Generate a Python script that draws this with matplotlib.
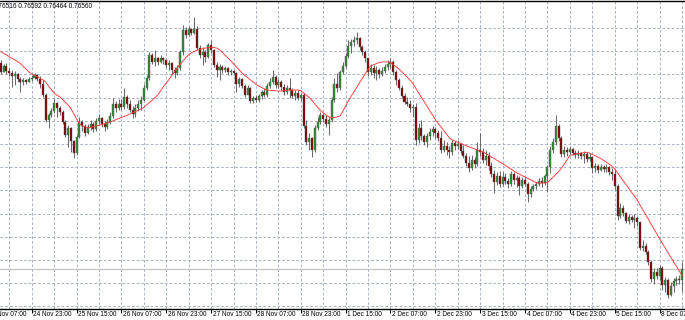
import numpy as np
import matplotlib.pyplot as plt

# H1 bars, one value per bar (weekends skipped)
first_open = 0.77449
close = [
    0.77410, 0.77436, 0.77415, 0.77406, 0.77393, 0.77402, 0.77380, 0.77367, 0.77376, 0.77367,
    0.77380, 0.77384, 0.77397, 0.77380, 0.77359, 0.77311, 0.77203, 0.77225, 0.77242, 0.77277,
    0.77255, 0.77238, 0.77195, 0.77139, 0.77169, 0.77113, 0.77061, 0.77130, 0.77195, 0.77178,
    0.77147, 0.77173, 0.77186, 0.77165, 0.77199, 0.77212, 0.77186, 0.77173, 0.77195, 0.77221,
    0.77272, 0.77255, 0.77272, 0.77259, 0.77303, 0.77272, 0.77247, 0.77229, 0.77255, 0.77272,
    0.77290, 0.77341, 0.77384, 0.77484, 0.77453, 0.77471, 0.77453, 0.77471, 0.77462, 0.77441,
    0.77449, 0.77419, 0.77406, 0.77428, 0.77497, 0.77591, 0.77570, 0.77596, 0.77578, 0.77596,
    0.77514, 0.77484, 0.77497, 0.77475, 0.77527, 0.77505, 0.77441, 0.77419, 0.77432, 0.77419,
    0.77428, 0.77410, 0.77415, 0.77406, 0.77359, 0.77380, 0.77350, 0.77311, 0.77341, 0.77285,
    0.77298, 0.77290, 0.77307, 0.77324, 0.77311, 0.77350, 0.77367, 0.77389, 0.77354, 0.77367,
    0.77346, 0.77324, 0.77341, 0.77333, 0.77307, 0.77320, 0.77298, 0.77311, 0.77178, 0.77109,
    0.77126, 0.77074, 0.77169, 0.77195, 0.77225, 0.77208, 0.77186, 0.77203, 0.77290, 0.77359,
    0.77341, 0.77410, 0.77436, 0.77479, 0.77522, 0.77540, 0.77548, 0.77557, 0.77518, 0.77497,
    0.77471, 0.77410, 0.77428, 0.77406, 0.77419, 0.77402, 0.77415, 0.77432, 0.77445, 0.77453,
    0.77410, 0.77376, 0.77341, 0.77307, 0.77281, 0.77272, 0.77255, 0.77259, 0.77117, 0.77169,
    0.77134, 0.77109, 0.77134, 0.77152, 0.77165, 0.77147, 0.77126, 0.77074, 0.77091, 0.77074,
    0.77066, 0.77104, 0.77091, 0.77100, 0.77070, 0.77048, 0.77018, 0.76997, 0.77031, 0.77014,
    0.77074, 0.77066, 0.77031, 0.77048, 0.77005, 0.76971, 0.76936, 0.76962, 0.76928, 0.76958,
    0.76941, 0.76928, 0.76971, 0.76945, 0.76953, 0.76919, 0.76945, 0.76928, 0.76884, 0.76906,
    0.76919, 0.76928, 0.76941, 0.76932, 0.76962, 0.77001, 0.77074, 0.77109, 0.77178, 0.77126,
    0.77057, 0.77074, 0.77066, 0.77078, 0.77061, 0.77053, 0.77061, 0.77048, 0.77057, 0.77035,
    0.77044, 0.76997, 0.77005, 0.76988, 0.77001, 0.76992, 0.77001, 0.76979, 0.76971, 0.76919,
    0.76790, 0.76824, 0.76803, 0.76768, 0.76785, 0.76772, 0.76781, 0.76764, 0.76652, 0.76660,
    0.76634, 0.76591, 0.76518, 0.76548, 0.76531, 0.76566, 0.76493, 0.76514, 0.76449, 0.76488,
    0.76510, 0.76518, 0.76516, 0.76560]
high = [
    0.77462, 0.77445, 0.77449, 0.77428, 0.77419, 0.77415, 0.77406, 0.77389, 0.77384, 0.77380,
    0.77389, 0.77397, 0.77406, 0.77402, 0.77393, 0.77376, 0.77320, 0.77234, 0.77255, 0.77298,
    0.77281, 0.77264, 0.77247, 0.77203, 0.77182, 0.77173, 0.77117, 0.77139, 0.77216, 0.77203,
    0.77186, 0.77186, 0.77203, 0.77195, 0.77212, 0.77229, 0.77216, 0.77199, 0.77208, 0.77238,
    0.77298, 0.77285, 0.77294, 0.77294, 0.77341, 0.77311, 0.77290, 0.77264, 0.77272, 0.77290,
    0.77307, 0.77359, 0.77397, 0.77497, 0.77492, 0.77505, 0.77475, 0.77484, 0.77475, 0.77466,
    0.77462, 0.77453, 0.77432, 0.77441, 0.77505, 0.77613, 0.77604, 0.77609, 0.77600, 0.77647,
    0.77609, 0.77527, 0.77518, 0.77505, 0.77535, 0.77548, 0.77509, 0.77453, 0.77445, 0.77441,
    0.77436, 0.77432, 0.77423, 0.77419, 0.77410, 0.77389, 0.77384, 0.77359, 0.77354, 0.77346,
    0.77307, 0.77311, 0.77316, 0.77333, 0.77341, 0.77363, 0.77384, 0.77419, 0.77397, 0.77380,
    0.77376, 0.77359, 0.77354, 0.77384, 0.77341, 0.77333, 0.77333, 0.77320, 0.77320, 0.77203,
    0.77147, 0.77130, 0.77182, 0.77216, 0.77238, 0.77234, 0.77225, 0.77216, 0.77303, 0.77384,
    0.77406, 0.77419, 0.77453, 0.77492, 0.77548, 0.77553, 0.77566, 0.77583, 0.77561, 0.77527,
    0.77505, 0.77471, 0.77445, 0.77441, 0.77436, 0.77428, 0.77432, 0.77445, 0.77462, 0.77471,
    0.77462, 0.77419, 0.77384, 0.77354, 0.77320, 0.77303, 0.77290, 0.77272, 0.77277, 0.77191,
    0.77203, 0.77143, 0.77147, 0.77169, 0.77178, 0.77173, 0.77160, 0.77156, 0.77117, 0.77109,
    0.77091, 0.77117, 0.77113, 0.77117, 0.77104, 0.77096, 0.77061, 0.77048, 0.77053, 0.77044,
    0.77109, 0.77147, 0.77083, 0.77074, 0.77066, 0.77022, 0.76988, 0.76979, 0.76984, 0.76979,
    0.76975, 0.76953, 0.76984, 0.76979, 0.76966, 0.76962, 0.76958, 0.76958, 0.76936, 0.76919,
    0.76928, 0.76936, 0.76953, 0.76958, 0.76971, 0.77009, 0.77091, 0.77126, 0.77225, 0.77186,
    0.77134, 0.77091, 0.77087, 0.77091, 0.77083, 0.77074, 0.77074, 0.77066, 0.77070, 0.77066,
    0.77061, 0.77048, 0.77018, 0.77014, 0.77014, 0.77009, 0.77014, 0.77005, 0.76997, 0.76992,
    0.76928, 0.76846, 0.76837, 0.76807, 0.76798, 0.76794, 0.76798, 0.76790, 0.76764, 0.76686,
    0.76673, 0.76643, 0.76600, 0.76566, 0.76566, 0.76578, 0.76574, 0.76527, 0.76522, 0.76505,
    0.76522, 0.76531, 0.76535, 0.76592]
low = [
    0.77402, 0.77410, 0.77402, 0.77393, 0.77346, 0.77354, 0.77367, 0.77324, 0.77354, 0.77359,
    0.77367, 0.77372, 0.77380, 0.77372, 0.77341, 0.77303, 0.77195, 0.77169, 0.77216, 0.77234,
    0.77216, 0.77225, 0.77186, 0.77130, 0.77087, 0.77066, 0.77040, 0.77053, 0.77126, 0.77156,
    0.77134, 0.77143, 0.77160, 0.77152, 0.77156, 0.77186, 0.77173, 0.77156, 0.77165, 0.77186,
    0.77212, 0.77238, 0.77247, 0.77247, 0.77251, 0.77255, 0.77238, 0.77212, 0.77216, 0.77242,
    0.77247, 0.77285, 0.77333, 0.77376, 0.77445, 0.77436, 0.77441, 0.77449, 0.77445, 0.77428,
    0.77419, 0.77402, 0.77384, 0.77397, 0.77419, 0.77484, 0.77557, 0.77566, 0.77570, 0.77574,
    0.77505, 0.77471, 0.77441, 0.77453, 0.77471, 0.77492, 0.77432, 0.77389, 0.77376, 0.77406,
    0.77410, 0.77397, 0.77397, 0.77397, 0.77324, 0.77346, 0.77341, 0.77303, 0.77320, 0.77277,
    0.77277, 0.77281, 0.77281, 0.77294, 0.77303, 0.77303, 0.77341, 0.77359, 0.77341, 0.77341,
    0.77333, 0.77311, 0.77316, 0.77298, 0.77298, 0.77290, 0.77290, 0.77285, 0.77169, 0.77096,
    0.77074, 0.77044, 0.77066, 0.77160, 0.77186, 0.77195, 0.77173, 0.77139, 0.77195, 0.77281,
    0.77324, 0.77333, 0.77402, 0.77428, 0.77471, 0.77492, 0.77522, 0.77531, 0.77505, 0.77484,
    0.77453, 0.77393, 0.77397, 0.77384, 0.77376, 0.77384, 0.77393, 0.77406, 0.77419, 0.77428,
    0.77397, 0.77354, 0.77333, 0.77298, 0.77272, 0.77264, 0.77238, 0.77216, 0.77096, 0.77104,
    0.77117, 0.77096, 0.77087, 0.77117, 0.77134, 0.77126, 0.77113, 0.77061, 0.77066, 0.77053,
    0.77040, 0.77053, 0.77074, 0.77078, 0.77057, 0.77040, 0.77005, 0.76979, 0.76988, 0.76997,
    0.77005, 0.77048, 0.77018, 0.77009, 0.76988, 0.76958, 0.76889, 0.76923, 0.76915, 0.76919,
    0.76928, 0.76910, 0.76919, 0.76928, 0.76915, 0.76880, 0.76910, 0.76919, 0.76850, 0.76872,
    0.76897, 0.76906, 0.76919, 0.76915, 0.76923, 0.76893, 0.76975, 0.77061, 0.77096, 0.77113,
    0.77044, 0.77044, 0.77048, 0.77057, 0.77053, 0.77040, 0.77040, 0.77035, 0.77018, 0.77022,
    0.77027, 0.76975, 0.76979, 0.76975, 0.76984, 0.76979, 0.76979, 0.76966, 0.76945, 0.76902,
    0.76772, 0.76781, 0.76790, 0.76759, 0.76755, 0.76764, 0.76738, 0.76747, 0.76643, 0.76639,
    0.76626, 0.76578, 0.76505, 0.76497, 0.76518, 0.76514, 0.76471, 0.76462, 0.76436, 0.76445,
    0.76462, 0.76493, 0.76497, 0.76464]
ma = [
    0.77499, 0.77491, 0.77484, 0.77477, 0.77469, 0.77463, 0.77455, 0.77447, 0.77435, 0.77423,
    0.77411, 0.77402, 0.77396, 0.77390, 0.77384, 0.77377, 0.77367, 0.77350, 0.77335, 0.77320,
    0.77311, 0.77304, 0.77292, 0.77280, 0.77268, 0.77253, 0.77231, 0.77209, 0.77188, 0.77179,
    0.77174, 0.77169, 0.77172, 0.77175, 0.77178, 0.77181, 0.77184, 0.77188, 0.77191, 0.77195,
    0.77200, 0.77205, 0.77210, 0.77215, 0.77219, 0.77224, 0.77229, 0.77235, 0.77240, 0.77246,
    0.77251, 0.77258, 0.77269, 0.77279, 0.77289, 0.77300, 0.77312, 0.77330, 0.77348, 0.77363,
    0.77379, 0.77396, 0.77413, 0.77430, 0.77444, 0.77459, 0.77473, 0.77485, 0.77494, 0.77500,
    0.77505, 0.77508, 0.77511, 0.77514, 0.77516, 0.77518, 0.77516, 0.77514, 0.77507, 0.77495,
    0.77483, 0.77471, 0.77459, 0.77446, 0.77433, 0.77420, 0.77407, 0.77396, 0.77387, 0.77377,
    0.77368, 0.77358, 0.77350, 0.77344, 0.77338, 0.77333, 0.77332, 0.77331, 0.77330, 0.77329,
    0.77329, 0.77330, 0.77331, 0.77333, 0.77333, 0.77333, 0.77333, 0.77330, 0.77320, 0.77311,
    0.77301, 0.77288, 0.77273, 0.77259, 0.77245, 0.77235, 0.77225, 0.77218, 0.77214, 0.77214,
    0.77217, 0.77221, 0.77242, 0.77264, 0.77286, 0.77307, 0.77326, 0.77345, 0.77365, 0.77384,
    0.77403, 0.77422, 0.77438, 0.77442, 0.77447, 0.77452, 0.77454, 0.77454, 0.77454, 0.77452,
    0.77442, 0.77433, 0.77423, 0.77412, 0.77400, 0.77388, 0.77375, 0.77361, 0.77341, 0.77322,
    0.77302, 0.77283, 0.77264, 0.77244, 0.77225, 0.77206, 0.77189, 0.77174, 0.77158, 0.77143,
    0.77127, 0.77118, 0.77113, 0.77108, 0.77103, 0.77098, 0.77093, 0.77088, 0.77084, 0.77079,
    0.77075, 0.77070, 0.77066, 0.77059, 0.77052, 0.77044, 0.77038, 0.77030, 0.77023, 0.77016,
    0.77008, 0.77000, 0.76992, 0.76984, 0.76976, 0.76970, 0.76964, 0.76958, 0.76952, 0.76946,
    0.76940, 0.76934, 0.76932, 0.76932, 0.76932, 0.76934, 0.76945, 0.76957, 0.76969, 0.76982,
    0.76996, 0.77014, 0.77032, 0.77051, 0.77054, 0.77057, 0.77059, 0.77061, 0.77063, 0.77065,
    0.77061, 0.77055, 0.77050, 0.77044, 0.77038, 0.77030, 0.77022, 0.77013, 0.77005, 0.76992,
    0.76976, 0.76959, 0.76942, 0.76926, 0.76909, 0.76892, 0.76876, 0.76859, 0.76838, 0.76817,
    0.76797, 0.76776, 0.76754, 0.76734, 0.76713, 0.76692, 0.76672, 0.76652, 0.76632, 0.76612,
    0.76592, 0.76573, 0.76553, 0.76533]

time_labels = ["24 Nov 07:00", "24 Nov 23:00", "25 Nov 15:00", "26 Nov 07:00",
               "26 Nov 23:00", "27 Nov 15:00", "28 Nov 07:00", "28 Nov 23:00",
               "1 Dec 15:00", "2 Dec 07:00", "2 Dec 23:00", "3 Dec 15:00",
               "4 Dec 07:00", "4 Dec 23:00", "5 Dec 15:00", "8 Dec 07:00"]
price_grid = [0.7640, 0.7650, 0.7660, 0.7670, 0.7680, 0.7690, 0.7700,
              0.7710, 0.7720, 0.7730, 0.7740, 0.7750, 0.7760]

close = np.array(close)
high = np.array(high)
low = np.array(low)
opn = np.concatenate([[first_open], close[:-1]])
x = np.arange(len(close))

fig = plt.figure(figsize=(6.85, 3.2), dpi=100)
ax = fig.add_axes([0, 1 - 308.5 / 320, 1, 308 / 320])

grid_kw = dict(color='#a3adbf', lw=0.65, dashes=(3, 2.2), zorder=0)
for p in price_grid:
    ax.axhline(p, **grid_kw)
label_pos = np.arange(len(time_labels)) * 16 - 5
for gx in np.arange(label_pos[0], len(close) + 8, 8):
    ax.axvline(gx, **grid_kw)

# bid line
ax.axhline(close[-1], color='#c4c4c4', lw=0.9, zorder=1)

# candles
up = close >= opn
ax.vlines(x, low, high, color='#6a6a6a', lw=0.75, zorder=2)
body_lo = np.minimum(opn, close)
body_h = np.maximum(np.abs(close - opn), 0.000015)
colors = np.where(up, '#2f8a2f', '#800000')
ax.bar(x, body_h, bottom=body_lo, width=0.72, color=colors,
       edgecolor='#5a5a5a', linewidth=0.3, zorder=3)

ax.plot(x, ma, color='#ff3a3a', lw=0.65, zorder=4)

ax.set_xlim(-0.31, 244.07)
ax.set_ylim(0.76391, 0.77719)
ax.set_yticks([])
ax.set_xticks(label_pos[(label_pos >= 0)])
ax.set_xticklabels([])
ax.tick_params(axis='x', length=3, width=0.7, color='black', direction='out')
for s in ('left', 'right'):
    ax.spines[s].set_visible(False)
for s in ('top', 'bottom'):
    ax.spines[s].set_color('black')
    ax.spines[s].set_linewidth(1.0)

font = dict(family='Liberation Sans', fontsize=4.7, color='black')
for pos, lab in zip(label_pos, time_labels):
    ax.annotate(lab, xy=(pos, 0), xycoords=('data', 'axes fraction'),
                xytext=(1.1, -1.6), textcoords='offset points',
                ha='left', va='top', annotation_clip=False, **font)

ohlc_text = f"{opn[-1]:.5f} {high[-1]:.5f} {low[-1]:.5f} {close[-1]:.5f}"
ax.annotate(ohlc_text, xy=(0, 1), xycoords='axes fraction',
            xytext=(-5.0, -1.6), textcoords='offset points',
            ha='left', va='top', annotation_clip=False, **font)

fig.savefig('out.png', dpi=100, facecolor='white')
